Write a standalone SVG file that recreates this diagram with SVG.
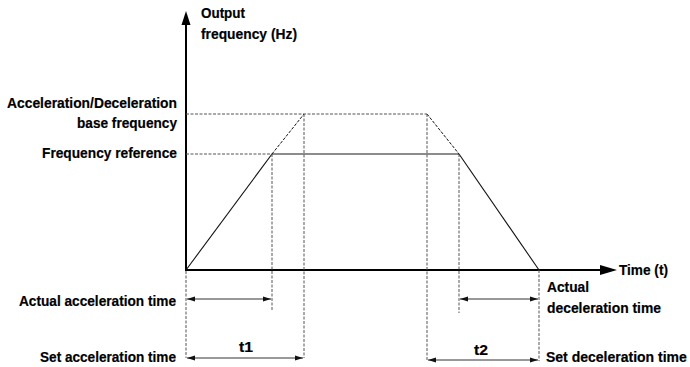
<svg xmlns="http://www.w3.org/2000/svg" width="690" height="367" viewBox="0 0 690 367">
<style>
text{font-family:"Liberation Sans",Arial,sans-serif;font-weight:bold;font-size:15.5px;fill:#000;stroke:#000;stroke-width:0.2}
.r{text-anchor:end}
.c{text-anchor:middle}
.axis{stroke:#000;stroke-width:2;fill:none}
.ramp{stroke:#111;stroke-width:1.1;fill:none}
.flat{stroke:#666;stroke-width:1.6;fill:none}
.dash{stroke:#555;stroke-width:1;stroke-dasharray:3 1.5;fill:none}
.dim{stroke:#333;stroke-width:1;fill:none;marker-start:url(#ds);marker-end:url(#de)}
</style>
<defs>
<marker id="de" markerWidth="8" markerHeight="6" refX="8" refY="3" orient="auto" markerUnits="userSpaceOnUse"><path d="M0,0.5 L8,3 L0,5.5z" fill="#111"/></marker>
<marker id="ds" markerWidth="8" markerHeight="6" refX="0" refY="3" orient="auto" markerUnits="userSpaceOnUse"><path d="M8,0.5 L0,3 L8,5.5z" fill="#111"/></marker>
</defs>
<g id="axes">
<line class="axis" x1="186" y1="271" x2="186" y2="24"/>
<path d="M181.5,25 L186,11 L190.5,25z" fill="#000"/>
<line class="axis" x1="185" y1="270" x2="602" y2="270"/>
<path d="M600,265 L617,270 L600,275z" fill="#000"/>
</g>
<g id="connectors">
<line class="dash" x1="186" y1="114" x2="427" y2="114"/>
<line class="dash" x1="186" y1="154" x2="272" y2="154"/>
<line class="flat" x1="272" y1="154" x2="459" y2="154"/>
<line class="ramp" x1="186" y1="270" x2="272" y2="154"/>
<line class="dash" x1="272" y1="154" x2="304" y2="114" style="stroke:#111"/>
<line class="dash" x1="427" y1="114" x2="459" y2="154" style="stroke:#111"/>
<line class="ramp" x1="459" y1="154" x2="539" y2="270"/>
<line class="dash" x1="186" y1="271" x2="186" y2="358"/>
<line class="dash" x1="272" y1="154" x2="272" y2="310"/>
<line class="dash" x1="304" y1="114" x2="304" y2="358"/>
<line class="dash" x1="427" y1="114" x2="427" y2="361"/>
<line class="dash" x1="459" y1="154" x2="459" y2="313"/>
<line class="dash" x1="539" y1="270" x2="539" y2="361"/>
<line class="dim" x1="187" y1="299" x2="271" y2="299"/>
<line class="dim" x1="187" y1="358" x2="303" y2="358"/>
<line class="dim" x1="460" y1="299" x2="538" y2="299"/>
<line class="dim" x1="428" y1="360" x2="538" y2="360"/>
</g>
<g id="labels">
<text x="201" y="18" textLength="44" lengthAdjust="spacingAndGlyphs">Output</text>
<text x="201" y="39" textLength="96" lengthAdjust="spacingAndGlyphs">frequency (Hz)</text>
<text class="r" x="177" y="108" textLength="170" lengthAdjust="spacingAndGlyphs">Acceleration/Deceleration</text>
<text class="r" x="177" y="128" textLength="100" lengthAdjust="spacingAndGlyphs">base frequency</text>
<text class="r" x="177" y="158" textLength="135" lengthAdjust="spacingAndGlyphs">Frequency reference</text>
<text class="r" x="176" y="306" textLength="157" lengthAdjust="spacingAndGlyphs">Actual acceleration time</text>
<text class="r" x="176" y="362" textLength="136" lengthAdjust="spacingAndGlyphs">Set acceleration time</text>
<text x="619" y="275" textLength="49" lengthAdjust="spacingAndGlyphs">Time (t)</text>
<text x="547" y="292" textLength="42" lengthAdjust="spacingAndGlyphs">Actual</text>
<text x="547" y="313" textLength="114" lengthAdjust="spacingAndGlyphs">deceleration time</text>
<text x="546" y="362" style="font-size:14px">Set deceleration time</text>
<text class="c" x="246" y="352" textLength="14" lengthAdjust="spacingAndGlyphs">t1</text>
<text class="c" x="481" y="355" textLength="14" lengthAdjust="spacingAndGlyphs">t2</text>
</g>
</svg>
